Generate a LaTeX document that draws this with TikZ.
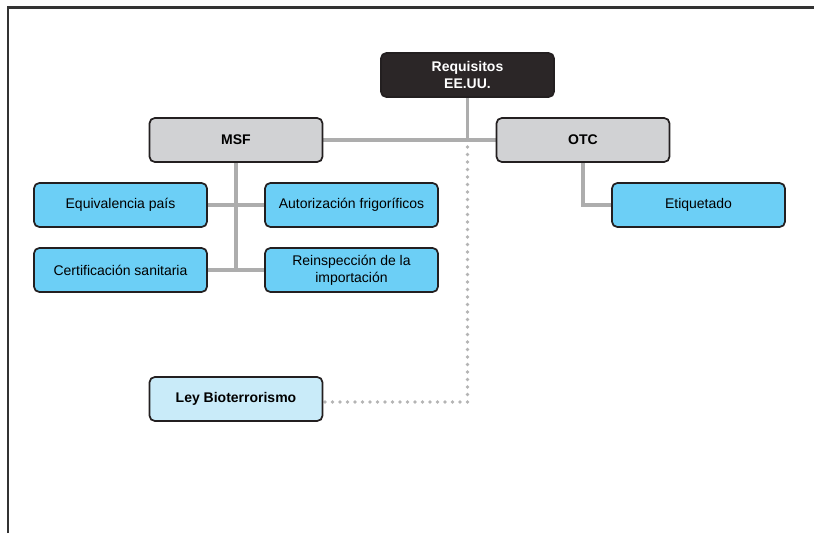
\documentclass[tikz,border=0pt]{standalone}
\usepackage{fontspec}
\setmainfont{Liberation Sans}
\usetikzlibrary{backgrounds}
\newlength{\pxu}
\setlength{\pxu}{0.75pt}
\definecolor{boxline}{HTML}{231F20}
\definecolor{rootfill}{HTML}{2B2627}
\definecolor{greyfill}{HTML}{D1D2D4}
\definecolor{bluefill}{HTML}{6CCFF6}
\definecolor{palefill}{HTML}{C9EBF9}
\definecolor{linkgrey}{HTML}{ADADAD}
\definecolor{dotgrey}{HTML}{B4B4B4}
\definecolor{framegrey}{HTML}{333333}
\tikzset{
  box/.style={draw=boxline, line width=1.3pt, rounded corners=4pt,
    minimum width=173\pxu, minimum height=44\pxu, inner sep=1pt,
    align=center, font=\fontsize{10.5}{12.5}\selectfont},
  rootbox/.style={box, fill=rootfill, text=white, font=\fontsize{10.5}{12.5}\selectfont\bfseries},
  groupbox/.style={box, fill=greyfill, font=\fontsize{10.5}{12.5}\selectfont\bfseries},
  itembox/.style={box, fill=bluefill},
  lawbox/.style={box, fill=palefill, font=\fontsize{10.5}{12.5}\selectfont\bfseries},
  link/.style={draw=linkgrey, line width=2.3pt},
  dotlink/.style={draw=dotgrey, line width=2.8pt, line cap=round, dash pattern=on 0pt off 7.5\pxu},
}
\begin{document}
\begin{tikzpicture}[x=0.75pt, y=-0.75pt]
  \useasboundingbox (0,0) rectangle (814,533);
  % frame: top and left edges
  \draw[framegrey, line width=1.6pt] (8,533) -- (8,7.5) -- (814,7.5);

  \node[rootbox]  (req)    at (467.5,75)  {Requisitos\\EE.UU.};
  \node[groupbox] (msf)    at (236,140)   {MSF};
  \node[groupbox] (otc)    at (583,140)   {OTC};
  \node[itembox]  (equiv)  at (120.5,205) {Equivalencia país};
  \node[itembox]  (autor)  at (351.5,205) {Autorización frigoríficos};
  \node[itembox]  (cert)   at (120.5,270) {Certificación sanitaria};
  \node[itembox]  (reinsp) at (351.5,270) {Reinspección de la\\importación};
  \node[itembox]  (etiq)   at (698.5,205) {Etiquetado};
  \node[lawbox]   (ley)    at (236,399)   {Ley Bioterrorismo};

  \coordinate (hub) at (req.south |- msf.east);

  \begin{scope}[on background layer]
    \draw[link] (msf.east) -- (otc.west);
    \draw[link] (req.south) -- (hub);
    \draw[link] (msf.south) -- (msf.south |- cert.east);
    \draw[link] (equiv.east) -- (autor.west);
    \draw[link] (cert.east) -- (reinsp.west);
    \draw[link] (otc.south) |- (etiq.west);
    \draw[dotlink] ([yshift=-7\pxu]hub) |- ([yshift=-3\pxu]ley.east);
  \end{scope}
\end{tikzpicture}
\end{document}
